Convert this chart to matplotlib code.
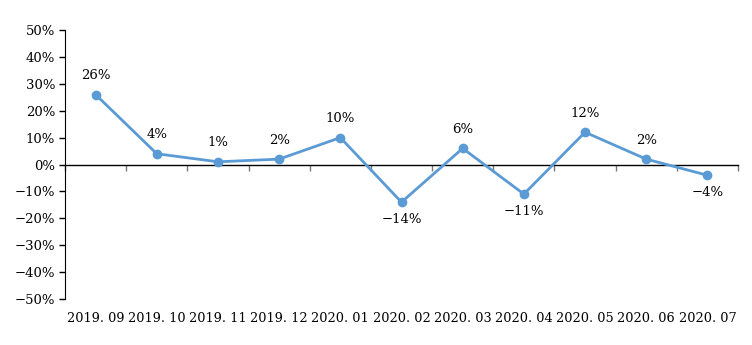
import matplotlib.pyplot as plt
import matplotlib.transforms as mtransforms

months = ['2019. 09', '2019. 10', '2019. 11', '2019. 12', '2020. 01', '2020. 02',
          '2020. 03', '2020. 04', '2020. 05', '2020. 06', '2020. 07']
growth = [26, 4, 1, 2, 10, -14, 6, -11, 12, 2, -4]

plt.rcParams['font.family'] = ['DejaVu Serif']

fig = plt.figure(figsize=(7.52, 3.45), dpi=100)
ax = fig.add_axes([65 / 752, 1 - 299 / 345, (738 - 65) / 752, (299 - 30) / 345])

x = list(range(len(months)))
ax.plot(x, growth, color='#5B9BD5', linewidth=2, marker='o', markersize=6, zorder=3)

for xi, v in zip(x, growth):
    if v >= 0:
        ax.annotate(f'{v}%', (xi, v), xytext=(0, 9), textcoords='offset points',
                    ha='center', va='bottom', fontsize=9.5)
    else:
        ax.annotate(f'\u2212{abs(v)}%', (xi, v), xytext=(0, -8), textcoords='offset points',
                    ha='center', va='top', fontsize=9.5)

ax.set_xlim(-0.5, len(months) - 0.5)
ax.set_ylim(-50, 50)
ax.set_yticks(range(-50, 51, 10))
ax.set_yticklabels([f'{t}%' if t >= 0 else f'\u2212{abs(t)}%' for t in range(-50, 51, 10)],
                   fontsize=9.5)
ax.tick_params(axis='y', direction='out', length=4, width=1, pad=3)

# x axis drawn at zero, category boundary ticks
ax.spines['top'].set_visible(False)
ax.spines['right'].set_visible(False)
ax.spines['bottom'].set_position(('data', 0))
ax.spines['bottom'].set_linewidth(1)
ax.set_xticks([i - 0.5 for i in range(len(months) + 1)])
ax.set_xticklabels([])
ax.tick_params(axis='x', direction='out', length=4, width=1, color='#777777')

trans = mtransforms.blended_transform_factory(ax.transData, ax.transAxes)
for xi, lab in zip(x, months):
    ax.text(xi, -0.05, lab, transform=trans, ha='center', va='top', fontsize=9.3)

fig.savefig('out.png', dpi=100)
